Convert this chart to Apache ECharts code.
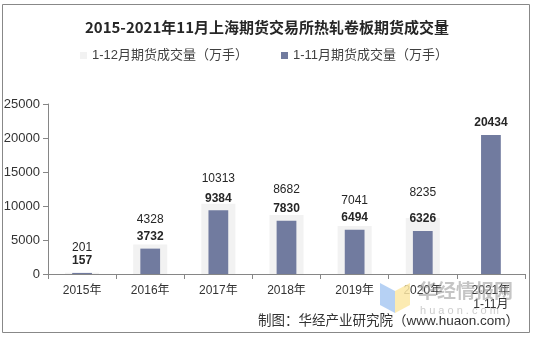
<!DOCTYPE html>
<html><head><meta charset="utf-8">
<script src="https://cdn.jsdelivr.net/npm/echarts@6/dist/echarts.min.js"></script>
<style>html,body{margin:0;padding:0;background:#fff}#c{width:534px;height:338px}</style>
</head><body><div id="c"></div>
<script>
const categories = ['2015年','2016年','2017年','2018年','2019年','2020年','2021年\n1-11月'];
const full12 = [201, 4328, 10313, 8682, 7041, 8235, null];
const jan11 = [157, 3732, 9384, 7830, 6494, 6326, 20434];
const yTicks = [0, 5000, 10000, 15000, 20000, 25000];
const seriesNames = ['1-12月期货成交量（万手）', '1-11月期货成交量（万手）'];

const font = 'Arial, "Liberation Sans", "Noto Sans CJK SC", sans-serif';
const chart = echarts.init(document.getElementById('c'), null, {renderer:'canvas'});
chart.setOption({
  animation: false,
  backgroundColor: '#fff',
  textStyle: {fontFamily: font},
  title: {
    text: '2015-2021年11月上海期货交易所热轧卷板期货成交量',
    left: 'center', top: 15,
    textStyle: {fontSize: 15, fontWeight: 'bold', color: '#262626', fontFamily: '"Noto Sans CJK SC", sans-serif'}
  },
  legend: {
    top: 44, left: 75, itemWidth: 7, itemHeight: 7, itemGap: 33,
    icon: 'rect',
    textStyle: {fontSize: 13, color: '#404040', fontFamily: font},
    data: seriesNames
  },
  grid: {left: 48, right: 9, top: 104, bottom: 64},
  xAxis: [{
    type: 'category', data: categories,
    axisLine: {lineStyle: {color: '#868686'}},
    axisTick: {show: true, length: 5, lineStyle: {color: '#868686'}},
    axisLabel: {fontSize: 12, color: '#333', lineHeight: 14, margin: 10, interval: 0}
  },{
    type: 'category', data: categories, show: false, position: 'bottom'
  }],
  yAxis: {
    type: 'value', min: yTicks[0], max: yTicks[yTicks.length - 1], interval: yTicks[1] - yTicks[0],
    axisLine: {show: true, lineStyle: {color: '#868686'}},
    axisTick: {show: true, length: 5, lineStyle: {color: '#868686'}},
    splitLine: {show: false},
    axisLabel: {fontSize: 13, color: '#333', margin: 8, formatter: v => String(v)}
  },
  series: [{
    name: seriesNames[0], type: 'bar', xAxisIndex: 0, data: full12,
    barWidth: '50%',
    itemStyle: {color: '#F2F2F2'},
    label: {show: true, position: 'top', distance: 19, fontSize: 12, color: '#262626'}
  },{
    name: seriesNames[1], type: 'bar', xAxisIndex: 1, data: jan11,
    barWidth: '29%',
    itemStyle: {color: '#717B9F'},
    label: {show: true, position: 'top', distance: 6, fontSize: 12, fontWeight: 'bold', color: '#262626'}
  }],
  graphic: [
    {type: 'rect', shape: {x: 2.5, y: 4.5, width: 527, height: 328}, style: {fill: 'none', stroke: '#888', lineWidth: 1}, silent: true, z: -1},
    {type: 'polygon', shape: {points: [[380,283],[395,291],[395,313],[380,305]]}, style: {fill: '#A9C9F2', opacity: 0.85}, silent: true, z: 10},
    {type: 'polygon', shape: {points: [[395,291],[410,283],[410,305],[395,313]]}, style: {fill: '#FCE8A4', opacity: 0.85}, silent: true, z: 10},
    {type: 'text', left: 418, top: 281, style: {text: '华经情报网', fontSize: 19, fontWeight: 'bold', fill: 'rgba(150,150,150,0.55)', fontFamily: '"Noto Sans CJK SC", sans-serif'}, silent: true, z: 10},
    {type: 'text', left: 420, top: 305, style: {text: 'h u a o n . c o m', fontSize: 11, fill: 'rgba(170,170,170,0.6)', fontFamily: font}, silent: true, z: 10},
    {type: 'text', right: 15, top: 315, style: {text: '制图：华经产业研究院（www.huaon.com）', fontSize: 13.5, fill: '#333', fontFamily: font}, silent: true, z: 11}
  ]
});
</script></body></html>
